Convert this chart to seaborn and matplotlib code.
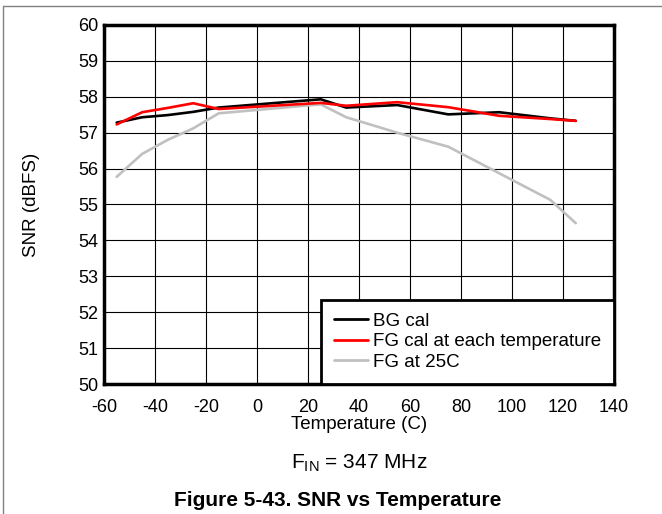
import pandas as pd
from matplotlib import pyplot as plt
from matplotlib.lines import Line2D
import seaborn as sns

temps = [-55, -45, -35, -25, -15, 25, 35, 55, 75, 95, 115, 125]
bg_cal = [57.28, 57.43, 57.49, 57.58, 57.70, 57.93, 57.70, 57.77, 57.51, 57.57, 57.40, 57.33]
fg_cal_each = [57.23, 57.57, 57.69, 57.82, 57.66, 57.83, 57.75, 57.85, 57.71, 57.47, 57.38, 57.33]
fg_at_25c = [55.77, 56.41, 56.80, 57.12, 57.54, 57.79, 57.43, 57.00, 56.61, 55.87, 55.13, 54.48]

series_names = ["BG cal", "FG cal at each temperature", "FG at 25C"]
colors = ["#000000", "#ff0000", "#c0c0c0"]

df = pd.DataFrame({
    "temp": temps * 3,
    "snr": bg_cal + fg_cal_each + fg_at_25c,
    "series": [series_names[0]] * len(temps) + [series_names[1]] * len(temps)
    + [series_names[2]] * len(temps),
})

sns.set_style("white")
plt.rcParams["font.family"] = ["Liberation Sans", "DejaVu Sans"]
plt.rcParams["axes.unicode_minus"] = False
plt.rcParams["text.color"] = "black"
plt.rcParams["axes.labelcolor"] = "black"
plt.rcParams["xtick.color"] = "black"
plt.rcParams["ytick.color"] = "black"

fig = plt.figure(figsize=(6.62, 5.14), dpi=100)
ax = fig.add_axes([0.157, 0.2529, 0.7705, 0.6985])

sns.lineplot(
    data=df,
    x="temp",
    y="snr",
    hue="series",
    hue_order=series_names,
    palette=colors,
    linewidth=1.9,
    ax=ax,
    legend=False,
)
# grey line sits under the other two
for ln, z in zip(ax.get_lines(), [3, 4, 2]):
    ln.set_zorder(z)

ax.set_xlim(-60, 140)
ax.set_ylim(50, 60)
ax.set_xticks(range(-60, 141, 20))
ax.set_yticks(range(50, 61, 1))
ax.grid(True, color="black", linewidth=0.8)
ax.tick_params(axis="both", length=0, labelsize=13)
ax.tick_params(axis="x", pad=11)
ax.tick_params(axis="y", pad=4)
for sp in ax.spines.values():
    sp.set_visible(True)
    sp.set_color("black")
    sp.set_linewidth(2.5)
    sp.set_zorder(5)

ax.set_xlabel("Temperature (C)", fontsize=13.5, labelpad=0)
ax.set_ylabel("SNR (dBFS)", fontsize=13.5)
ax.yaxis.set_label_coords(-0.125, 0.5)

handles = [Line2D([0], [0], color=c, linewidth=2) for c in colors]
leg = ax.legend(
    handles, series_names, loc="lower right", fontsize=13.5, frameon=True,
    fancybox=False, framealpha=1, borderaxespad=0, handlelength=1.8,
    labelspacing=0.18, borderpad=0.7, handletextpad=0.25,
)
leg.get_frame().set_edgecolor("black")
leg.get_frame().set_linewidth(2)
leg.set_zorder(6)

fig.text(0.542, 0.099, r"F$_{\mathregular{IN}}$ = 347 MHz", ha="center", va="center", fontsize=15)
fig.text(0.51, 0.027, "Figure 5-43. SNR vs Temperature", ha="center", va="center",
         fontsize=15, fontweight="bold")

# page border lines
fig.add_artist(Line2D([0.0045, 1], [0.988, 0.988], color="#808080", linewidth=1))
fig.add_artist(Line2D([0.0045, 0.0045], [0, 0.988], color="#808080", linewidth=1))

fig.savefig("out.png", dpi=100)
